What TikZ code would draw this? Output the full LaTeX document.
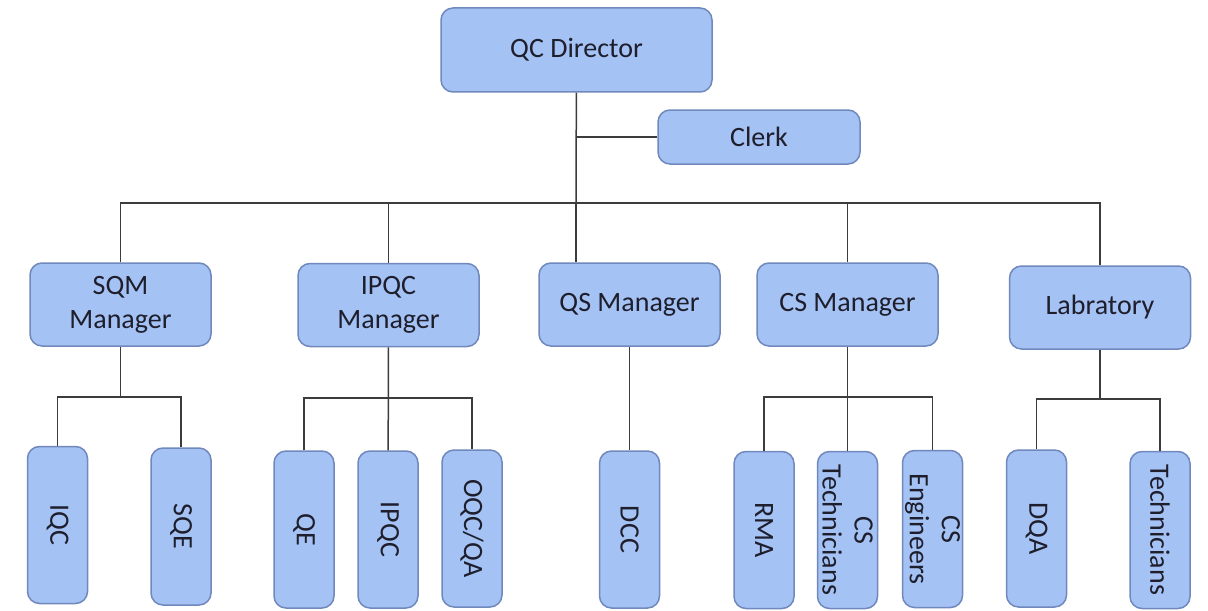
\documentclass[tikz,border=0pt]{standalone}
\usepackage{fontspec}
\setmainfont{Carlito}
\definecolor{boxfill}{HTML}{A4C2F4}
\definecolor{boxline}{HTML}{7088BC}
\definecolor{boxtext}{HTML}{1E1E2C}
\definecolor{linegray}{HTML}{3C3C3C}

\begin{document}
\begin{tikzpicture}[x=0.5pt,y=-0.5pt]
    \tikzstyle{unit} = [draw=boxline, fill=boxfill, line width=0.75pt, rounded corners=6pt,
        text=boxtext, font=\fontsize{14}{17}\selectfont, align=center, inner sep=0pt]
    \tikzstyle{head} = [unit, minimum width=90.5pt, minimum height=41.5pt]
    \tikzstyle{staff} = [unit, rotate=-90, minimum width=78.5pt, minimum height=30pt,
        font=\fontsize{14}{16}\selectfont]
    \tikzstyle{link} = [draw=linegray, line width=0.75pt]
    \useasboundingbox (0,0) rectangle (1208,610);

    \node[unit, minimum width=135.5pt, minimum height=42pt] (dir) at (576.5,50) {QC Director};
    \node[unit, minimum width=101pt, minimum height=27pt] (clerk) at (759,137) {Clerk};

    \node[head] (sqm) at (120.5,304.5) {SQM\\Manager};
    \node[head] (ipqcm) at (388.5,305) {IPQC\\Manager};
    \node[head] (qsm) at (629.5,304.5) {QS Manager};
    \node[head] (csm) at (847.5,304.5) {CS Manager};
    \node[head] (lab) at (1100,307.5) {Labratory};

    \node[staff] (iqc) at (57.5,525) {IQC};
    \node[staff] (sqe) at (181,526.5) {SQE};
    \node[staff] (qe) at (304,529.5) {QE};
    \node[staff] (ipqc) at (388,529.5) {IPQC};
    \node[staff] (oqc) at (472,528.5) {OQC/QA};
    \node[staff] (dcc) at (629.5,529.5) {DCC};
    \node[staff] (rma) at (764,530) {RMA};
    \node[staff] (cstech) at (847.5,530) {CS\\Technicians};
    \node[staff] (cseng) at (932.5,529) {CS\\Engineers};
    \node[staff] (dqa) at (1036.5,528.5) {DQA};
    \node[staff] (tech) at (1160,530) {Technicians};

    \coordinate (bus) at (576,203);
    \coordinate (sqmj) at (120.5,397);
    \coordinate (ipqcj) at (388.5,398);
    \coordinate (csj) at (847.5,397);
    \coordinate (labj) at (1100,399);

    \draw[link] (dir) -- (bus);
    \draw[link] (dir |- clerk) -- (clerk);
    \draw[link] (sqm) |- (bus) -| (lab);
    \draw[link] (bus) -| (ipqcm);
    \draw[link] (bus) -- (bus |- qsm.north);
    \draw[link] (bus) -| (csm);

    \draw[link] (sqm) -- (sqmj);
    \draw[link] (iqc) |- (sqmj) -| (sqe);
    \draw[link] (ipqcm) -- (ipqc);
    \draw[link] (qe) |- (ipqcj) -| (oqc);
    \draw[link] (qsm) -- (dcc);
    \draw[link] (csm) -- (cstech);
    \draw[link] (rma) |- (csj) -| (cseng);
    \draw[link] (lab) -- (labj);
    \draw[link] (dqa) |- (labj) -| (tech);
\end{tikzpicture}
\end{document}
